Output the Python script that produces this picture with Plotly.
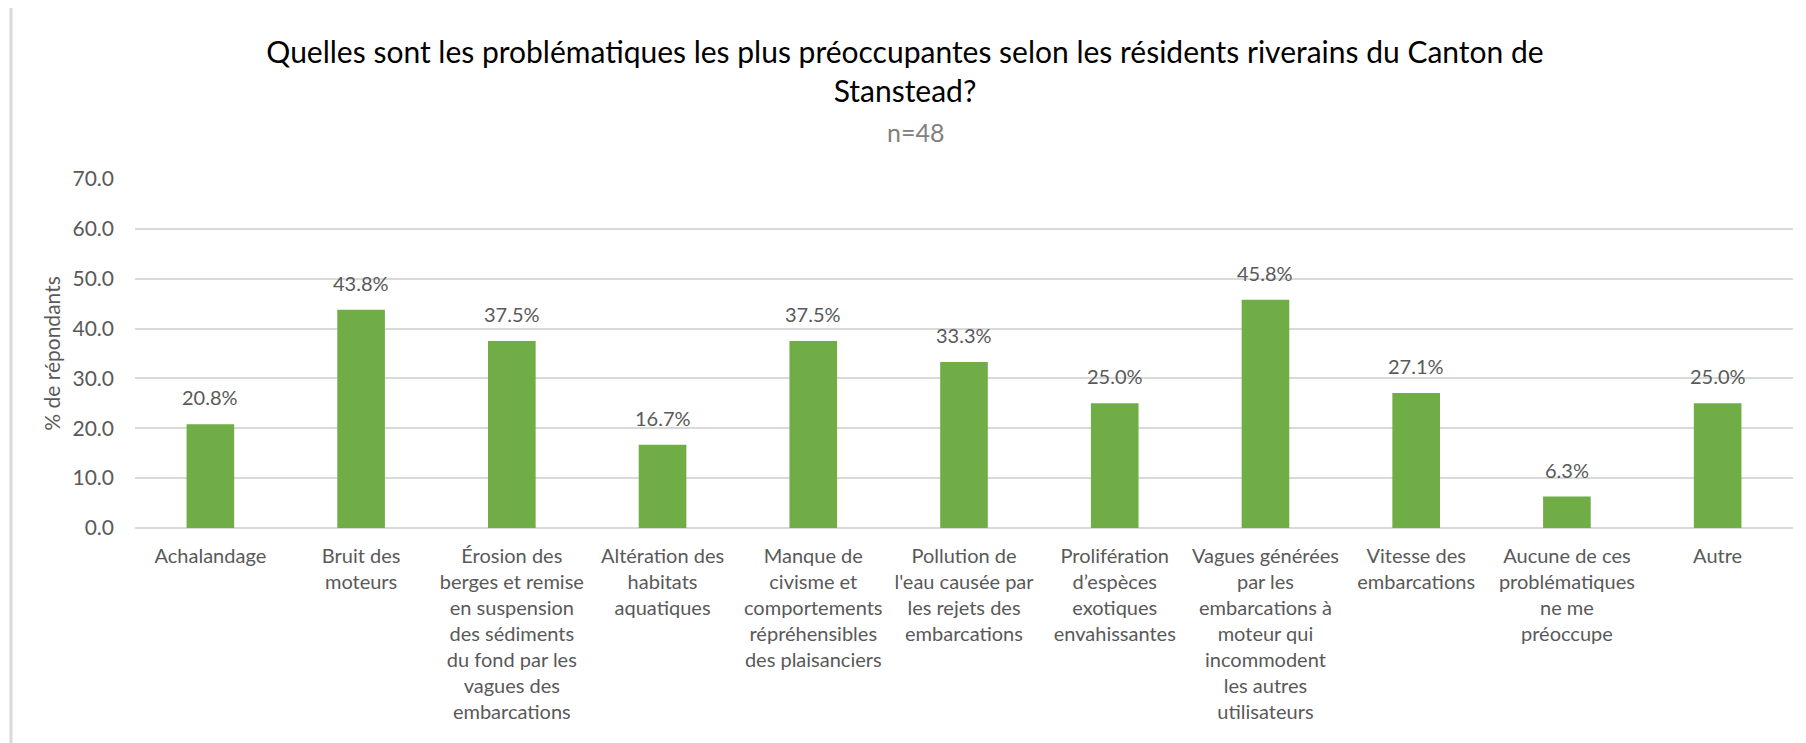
import plotly.graph_objects as go

categories = [
    "Achalandage",
    "Bruit des<br>moteurs",
    "Érosion des<br>berges et remise<br>en suspension<br>des sédiments<br>du fond par les<br>vagues des<br>embarcations",
    "Altération des<br>habitats<br>aquatiques",
    "Manque de<br>civisme et<br>comportements<br>répréhensibles<br>des plaisanciers",
    "Pollution de<br>l'eau causée par<br>les rejets des<br>embarcations",
    "Prolifération<br>d’espèces<br>exotiques<br>envahissantes",
    "Vagues générées<br>par les<br>embarcations à<br>moteur qui<br>incommodent<br>les autres<br>utilisateurs",
    "Vitesse des<br>embarcations",
    "Aucune de ces<br>problématiques<br>ne me<br>préoccupe",
    "Autre",
]
values = [20.8, 43.8, 37.5, 16.7, 37.5, 33.3, 25.0, 45.8, 27.1, 6.3, 25.0]
y_ticks = [0, 10, 20, 30, 40, 50, 60, 70]
y_tick_labels = ["0.0", "10.0", "20.0", "30.0", "40.0", "50.0", "60.0", "70.0"]

FONT = "Lato, Carlito, Calibri, 'Liberation Sans', sans-serif"
GREY = "#595959"

# page body has an 8px margin, so the figure is drawn 8px in from the corner
W, H = 1798, 735
ML, MR, MT, MB = 127, 13, 171, 215
pw = W - ML - MR
ph = H - MT - MB

def px_x(p):
    return (p - ML) / pw

def px_y(p):
    return (H - MB - p) / ph

fig = go.Figure(
    go.Bar(
        x=categories,
        y=values,
        marker=dict(color="#70AD47", line=dict(width=0)),
        hovertemplate="%{y:.1f}%<extra></extra>",
    )
)

value_labels = [
    dict(
        x=c,
        y=v,
        xref="x",
        yref="y",
        text=f"{v:.1f}%",
        showarrow=False,
        yanchor="bottom",
        xanchor="center",
        yshift=13,
        font=dict(family=FONT, size=20, color=GREY),
    )
    for c, v in zip(categories, values)
]

fig.update_layout(
    width=W,
    height=H,
    margin=dict(l=ML, r=MR, t=MT, b=MB),
    paper_bgcolor="white",
    plot_bgcolor="white",
    bargap=0.684,
    showlegend=False,
    font=dict(family=FONT, color=GREY),
    title=dict(
        text="Quelles sont les problématiques les plus préoccupantes selon les résidents riverains du Canton de<br>Stanstead?",
        font=dict(family=FONT, size=30, color="#000000"),
        x=px_x(897),
        xanchor="center",
        xref="paper",
        y=1 - 55 / H,
        yanchor="top",
    ),
    annotations=[
        dict(
            text="n=48",
            x=px_x(907),
            y=px_y(124),
            xref="paper",
            yref="paper",
            xanchor="center",
            yanchor="middle",
            showarrow=False,
            font=dict(family=FONT, size=25, color="#808080"),
        )
    ] + value_labels,
    shapes=[
        dict(
            type="rect",
            xref="paper",
            yref="paper",
            x0=px_x(3),
            x1=px_x(1840),
            y0=px_y(780),
            y1=px_y(-20),
            line=dict(color="#D9D9D9", width=3),
            fillcolor="rgba(0,0,0,0)",
            layer="below",
        )
    ],
)

fig.update_yaxes(
    range=[0, 70],
    tickvals=y_ticks,
    ticktext=y_tick_labels,
    tickfont=dict(family=FONT, size=21, color=GREY),
    showgrid=True,
    gridcolor="#D9D9D9",
    gridwidth=2,
    zeroline=True,
    zerolinecolor="#D9D9D9",
    zerolinewidth=2,
    showline=False,
    ticks="",
    ticklabelstandoff=20,
    title=dict(text="% de répondants", font=dict(family=FONT, size=21, color=GREY), standoff=6),
    automargin=False,
)

fig.update_xaxes(
    tickfont=dict(family=FONT, size=20, color=GREY),
    tickangle=0,
    showline=False,
    ticks="",
    showgrid=False,
    automargin=False,
    ticklabelstandoff=14,
)

fig.write_html("out.html")
